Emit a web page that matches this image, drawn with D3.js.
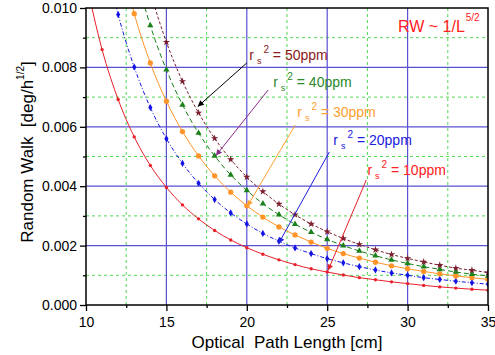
<!DOCTYPE html>
<html>
<head>
<meta charset="utf-8">
<script src="https://cdn.jsdelivr.net/npm/d3@7"></script>
<style>
  body { margin: 0; background: #fff; }
  text { font-family: Arial, "Liberation Sans", sans-serif; white-space: pre; }
</style>
</head>
<body>
<svg class="chart" width="495" height="355"></svg>
<script>
// optical path length [cm]
var lengths = [10, 11, 12, 13, 14, 15, 16, 17, 18, 19, 20, 21, 22, 23, 24, 25, 26, 27, 28, 29, 30, 31, 32, 33, 34, 35];
// random walk values, in units of 0.001 deg/h^1/2 (null = above the plot)
var rw10 = [10.91, 8.60, 6.92, 5.66, 4.70, 3.96, 3.37, 2.90, 2.51, 2.19, 1.93, 1.71, 1.52, 1.36, 1.22, 1.11, 1.01, 0.92, 0.85, 0.78, 0.72, 0.66, 0.61, 0.57, 0.53, 0.50];
var rw20 = [null, 12.16, 9.78, 8.01, 6.65, 5.60, 4.77, 4.10, 3.55, 3.10, 2.73, 2.41, 2.15, 1.92, 1.73, 1.56, 1.42, 1.29, 1.18, 1.08, 1.00, 0.92, 0.86, 0.80, 0.75, 0.70];
var rw30 = [null, null, 11.99, 9.81, 8.15, 6.86, 5.84, 5.02, 4.35, 3.80, 3.34, 2.96, 2.63, 2.36, 2.12, 1.91, 1.73, 1.58, 1.44, 1.32, 1.22, 1.13, 1.05, 0.98, 0.92, 0.86];
var rw40 = [null, null, null, 11.32, 9.41, 7.92, 6.74, 5.79, 5.02, 4.38, 3.86, 3.41, 3.04, 2.72, 2.45, 2.21, 2.00, 1.82, 1.66, 1.52, 1.40, 1.29, 1.20, 1.11, 1.04, 0.98];
var rw50 = [null, null, null, null, 10.51, 8.85, 7.53, 6.47, 5.61, 4.90, 4.31, 3.82, 3.40, 3.04, 2.73, 2.47, 2.24, 2.04, 1.86, 1.70, 1.57, 1.45, 1.34, 1.24, 1.17, 1.09];
var seriesNames = ["10ppm", "20ppm", "30ppm", "40ppm", "50ppm"];

var xTicks = [10, 15, 20, 25, 30, 35];
var xMinor = [12.5, 17.5, 22.5, 27.5, 32.5];
var yTicks = [0, 0.002, 0.004, 0.006, 0.008, 0.010];
var yMinor = [0.001, 0.003, 0.005, 0.007, 0.009];

var margin = { left: 86, top: 8, right: 7, bottom: 50 };
var width = 495 - margin.left - margin.right;
var height = 355 - margin.top - margin.bottom;

var styles = [
  { color: "#e8202a", dash: null, symbol: d3.symbolCircle, size: 9 },
  { color: "#1414e6", dash: "4,2,1,2", symbol: d3.symbolDiamond, size: 15 },
  { color: "#ff9428", dash: null, symbol: d3.symbolCircle, size: 22 },
  { color: "#1a801a", dash: "5,3", symbol: d3.symbolTriangle, size: 17 },
  { color: "#7a1f2e", dash: "3,2", symbol: d3.symbolStar, size: 17 }
];

// annotation: label anchor, arrow start and arrow tip, all in data units
var notes = [
  { text: "10ppm", color: "#ff2020", arrow: "#e8202a", at: [27.5, 0.00438], from: [27.43, 0.00421], to: [25.05, 0.00116] },
  { text: "20ppm", color: "#2020dd", arrow: "#2020dd", at: [25.38, 0.00539], from: [25.13, 0.00515], to: [21.98, 0.00207] },
  { text: "30ppm", color: "#ffa030", arrow: "#ffa030", at: [23.14, 0.00633], from: [23.01, 0.00606], to: [20.03, 0.00332] },
  { text: "40ppm", color: "#2a8a2a", arrow: "#8b2a8b", at: [21.64, 0.00734], from: [21.33, 0.00724], to: [18.08, 0.00503] },
  { text: "50ppm", color: "#8b1a1a", arrow: "#000000", at: [20.15, 0.00825], from: [20.0, 0.00815], to: [16.95, 0.00668] }
];

var x = d3.scaleLinear().domain([10, 35]).range([0, width]);
var y = d3.scaleLinear().domain([0, 0.010]).range([height, 0]);

var svg = d3.select(".chart");
var chart = svg.append("g").attr("transform", "translate(" + margin.left + "," + margin.top + ")");

svg.append("defs").append("clipPath").attr("id", "plotClip")
  .append("rect").attr("width", width).attr("height", height);

/* Grid */
chart.append("g").selectAll("line").data(xMinor).enter().append("line")
  .attr("x1", x).attr("x2", x).attr("y1", 0).attr("y2", height)
  .attr("stroke", "#52d852").attr("stroke-dasharray", "3,3");
chart.append("g").selectAll("line").data(yMinor).enter().append("line")
  .attr("y1", y).attr("y2", y).attr("x1", 0).attr("x2", width)
  .attr("stroke", "#52d852").attr("stroke-dasharray", "3,3");
chart.append("g").selectAll("line").data(xTicks.slice(1, -1)).enter().append("line")
  .attr("x1", x).attr("x2", x).attr("y1", 0).attr("y2", height)
  .attr("stroke", "#5a50d0").attr("stroke-width", 1.2);
chart.append("g").selectAll("line").data(yTicks.slice(1, -1)).enter().append("line")
  .attr("y1", y).attr("y2", y).attr("x1", 0).attr("x2", width)
  .attr("stroke", "#5a50d0").attr("stroke-width", 1.2);

/* Series */
var allSeries = [rw10, rw20, rw30, rw40, rw50];
var plot = chart.append("g").attr("clip-path", "url(#plotClip)");

allSeries.forEach(function (vals, s) {
  var pts = lengths.map(function (L, i) {
    return { L: L, v: vals[i] == null ? null : vals[i] / 1000 };
  }).filter(function (d) { return d.v != null; });
  var st = styles[s];

  var line = d3.line()
    .x(function (d) { return x(d.L); })
    .y(function (d) { return y(d.v); })
    .curve(d3.curveMonotoneX);

  plot.append("path")
    .datum(pts)
    .attr("class", "series s" + seriesNames[s])
    .attr("d", line)
    .attr("fill", "none")
    .attr("stroke", st.color)
    .attr("stroke-width", 1)
    .attr("stroke-dasharray", st.dash);

  plot.append("g").selectAll("path").data(pts).enter().append("path")
    .attr("d", d3.symbol().type(st.symbol).size(st.size))
    .attr("transform", function (d) { return "translate(" + x(d.L) + "," + y(d.v) + ")"; })
    .attr("fill", st.color);
});

/* Annotations */
var defs = svg.select("defs");
notes.forEach(function (n, i) {
  defs.append("marker").attr("id", "head" + i)
    .attr("viewBox", "0 0 10 10").attr("refX", 10).attr("refY", 5)
    .attr("markerWidth", 9).attr("markerHeight", 6)
    .attr("markerUnits", "userSpaceOnUse")
    .attr("orient", "auto")
    .append("path").attr("d", "M0,0L10,5L0,10z").attr("fill", n.arrow);

  chart.append("line")
    .attr("x1", x(n.from[0])).attr("y1", y(n.from[1]))
    .attr("x2", x(n.to[0])).attr("y2", y(n.to[1]))
    .attr("stroke", n.arrow).attr("stroke-width", 1)
    .attr("marker-end", "url(#head" + i + ")");

  var t = chart.append("text")
    .attr("x", x(n.at[0])).attr("y", y(n.at[1]))
    .attr("fill", n.color).attr("font-size", 14);
  t.append("tspan").text("r");
  t.append("tspan").attr("font-size", 9).attr("dx", 3).attr("dy", 4).text("s");
  t.append("tspan").attr("font-size", 10).attr("dx", 2).attr("dy", -11).text("2");
  t.append("tspan").attr("dy", 7).text(" = " + n.text);
});

var rw = chart.append("text")
  .attr("x", x(29.4)).attr("y", y(0.0092))
  .attr("fill", "#ff2020").attr("font-size", 16);
rw.append("tspan").text("RW ~ 1/L");
rw.append("tspan").attr("font-size", 10).attr("dy", -11).attr("dx", 1).text("5/2");

/* Axes */
var xAxis = d3.axisBottom(x).tickValues(xTicks).tickSize(6).tickPadding(6).tickFormat(d3.format("d"));
var xAxisMinor = d3.axisBottom(x).tickValues(xMinor).tickSize(3).tickFormat("");
var yAxis = d3.axisLeft(y).tickValues(yTicks).tickSize(6).tickPadding(3).tickFormat(d3.format(".3f"));
var yAxisMinor = d3.axisLeft(y).tickValues(yMinor).tickSize(3).tickFormat("");

chart.append("g").attr("transform", "translate(0," + height + ")").call(xAxis);
chart.append("g").attr("transform", "translate(0," + height + ")").call(xAxisMinor);
chart.append("g").call(yAxis);
chart.append("g").call(yAxisMinor);

chart.selectAll(".tick text").attr("font-size", 14).attr("font-family", "Arial, 'Liberation Sans', sans-serif");
chart.selectAll(".tick line").attr("stroke-width", 1.3);
chart.selectAll(".domain").remove();

chart.append("rect")
  .attr("width", width).attr("height", height)
  .attr("fill", "none").attr("stroke", "#000").attr("stroke-width", 1.5);

/* Axis titles */
chart.append("text")
  .attr("x", width / 2).attr("y", height + 43)
  .attr("text-anchor", "middle").attr("font-size", 17)
  .text("Optical  Path Length [cm]");

var yt = svg.append("text")
  .attr("transform", "translate(33,152) rotate(-90)")
  .attr("text-anchor", "middle").attr("font-size", 17);
yt.append("tspan").text("Random Walk  [deg/h");
yt.append("tspan").attr("font-size", 10).attr("dy", -9).text("1/2");
yt.append("tspan").attr("dy", 9).text("]");
</script>
</body>
</html>
